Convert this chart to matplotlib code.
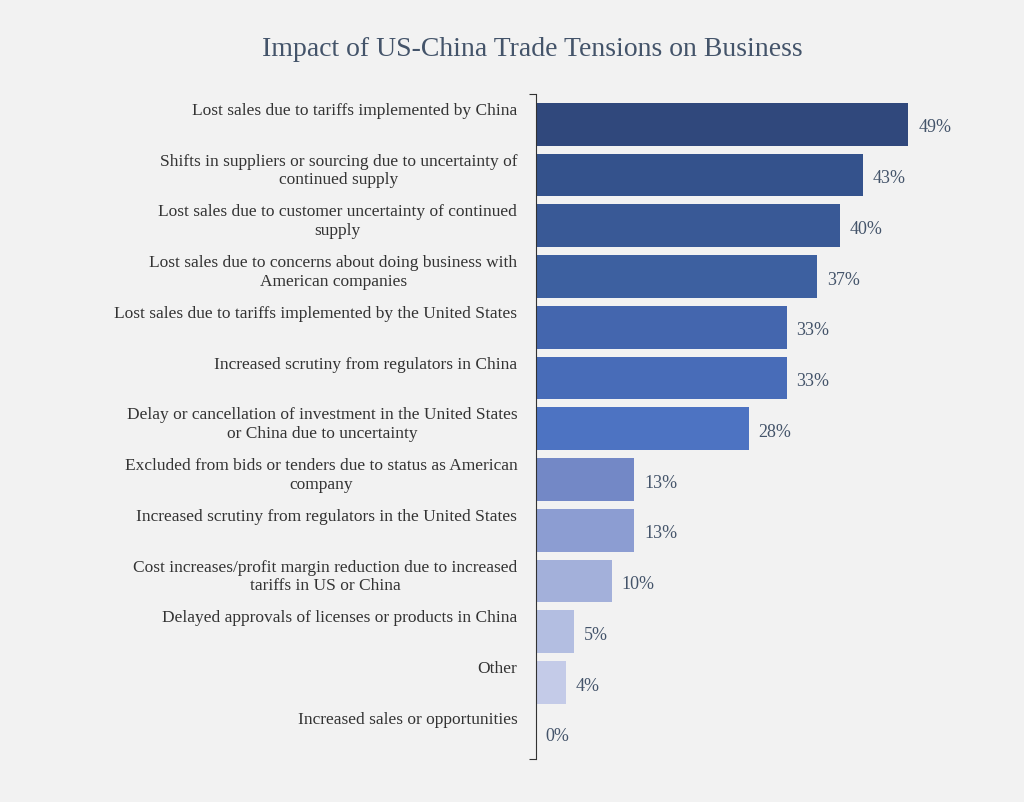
import matplotlib.pyplot as plt

categories = [
    "Lost sales due to tariffs implemented by China",
    "Shifts in suppliers or sourcing due to uncertainty of\ncontinued supply",
    "Lost sales due to customer uncertainty of continued\nsupply",
    "Lost sales due to concerns about doing business with\nAmerican companies",
    "Lost sales due to tariffs implemented by the United States",
    "Increased scrutiny from regulators in China",
    "Delay or cancellation of investment in the United States\nor China due to uncertainty",
    "Excluded from bids or tenders due to status as American\ncompany",
    "Increased scrutiny from regulators in the United States",
    "Cost increases/profit margin reduction due to increased\ntariffs in US or China",
    "Delayed approvals of licenses or products in China",
    "Other",
    "Increased sales or opportunities",
]
values = [49, 43, 40, 37, 33, 33, 28, 13, 13, 10, 5, 4, 0]
colors = ["#30487c", "#34528c", "#395996", "#3d60a0", "#4466ae", "#486cb8", "#4d73c2",
          "#7388c6", "#8c9dd2", "#a3b0da", "#b3bee1", "#c4cbe8", "#d0d6ee"]

bg = "#f2f2f2"
txt = "#44546a"
plt.rcParams['font.family'] = ['Liberation Serif', 'DejaVu Serif']

fig = plt.figure(figsize=(10.24, 8.03), dpi=100, facecolor=bg)
ax = fig.add_axes([0.523, 0.054, 0.416, 0.828], facecolor=bg)

y = list(range(len(values)))
ax.barh(y, values, height=0.84, color=colors)
for yi, v in zip(y, values):
    ax.text(v + 1.3, yi + 0.05, f"{v}%", va='center', ha='left', fontsize=13, color=txt)
    ax.text(-2.4, yi - 0.5 + 0.06, categories[yi], va='top', ha='right', fontsize=12.5,
            color='#333333', linespacing=1.2, multialignment='center')

ax.set_xlim(0, 56)
ax.set_ylim(12.5, -0.6)
ax.set_xticks([])
ax.set_yticks([-0.6, 12.5])
ax.set_yticklabels([])
ax.tick_params(axis='y', length=5, color='#333333')
for s in ['top', 'right', 'bottom']:
    ax.spines[s].set_visible(False)
ax.spines['left'].set_color('#333333')

fig.text(0.52, 0.93, "Impact of US-China Trade Tensions on Business", ha='center',
         fontsize=20, color=txt)
fig.savefig("out.png", dpi=100, facecolor=bg)
